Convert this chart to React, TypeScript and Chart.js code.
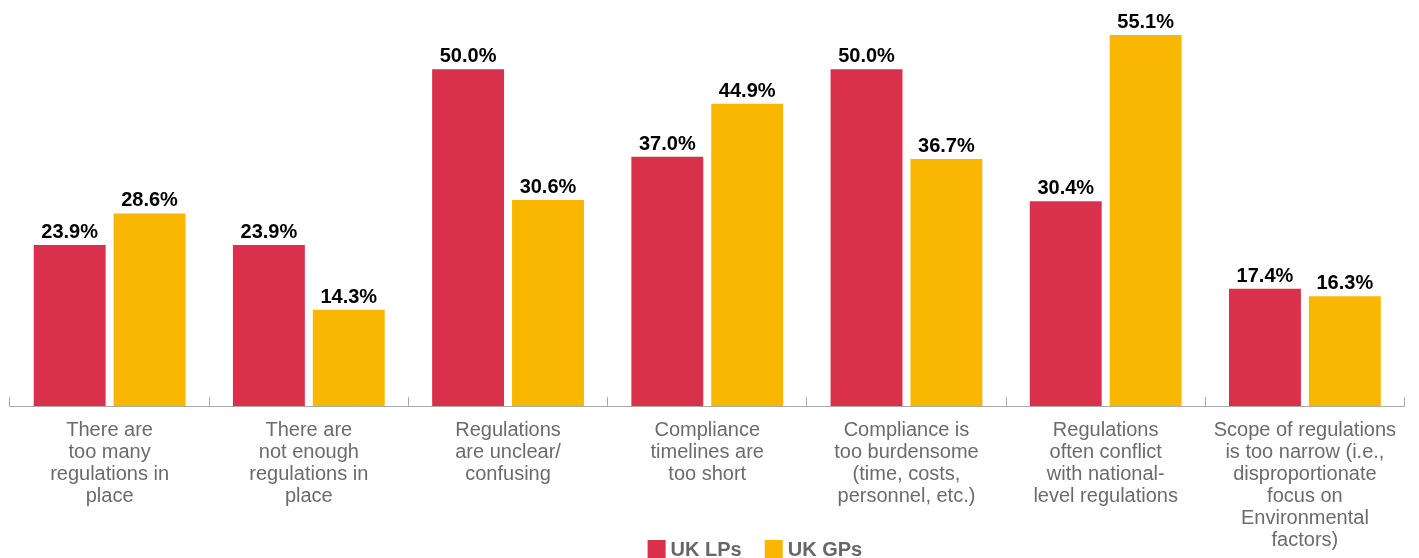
import React, { useEffect, useRef } from "react";
import { Chart, registerables } from "chart.js";

Chart.register(...registerables);

const categories: string[][] = [
  ["There are", "too many", "regulations in", "place"],
  ["There are", "not enough", "regulations in", "place"],
  ["Regulations", "are unclear/", "confusing"],
  ["Compliance", "timelines are", "too short"],
  ["Compliance is", "too burdensome", "(time, costs,", "personnel, etc.)"],
  ["Regulations", "often conflict", "with national-", "level regulations"],
  ["Scope of regulations", "is too narrow (i.e.,", "disproportionate", "focus on", "Environmental", "factors)"],
];

const ukLPs: number[] = [23.9, 23.9, 50.0, 37.0, 50.0, 30.4, 17.4];
const ukGPs: number[] = [28.6, 14.3, 30.6, 44.9, 36.7, 55.1, 16.3];

const seriesNames = ["UK LPs", "UK GPs"];
const seriesColors = ["#D9304B", "#F9B702"];

const FONT = '"Liberation Sans", Arial, Helvetica, sans-serif';

const valueLabelPlugin = {
  id: "valueLabels",
  afterDatasetsDraw(chart: any) {
    const ctx = chart.ctx;
    ctx.save();
    ctx.font = `bold 20px ${FONT}`;
    ctx.fillStyle = "#000000";
    ctx.textAlign = "center";
    ctx.textBaseline = "alphabetic";
    chart.data.datasets.forEach((ds: any, di: number) => {
      const meta = chart.getDatasetMeta(di);
      meta.data.forEach((bar: any, i: number) => {
        ctx.fillText(`${Number(ds.data[i]).toFixed(1)}%`, bar.x, bar.y - 7);
      });
    });
    ctx.restore();
  },
};

const customLegendPlugin = {
  id: "customLegend",
  afterDraw(chart: any) {
    const ctx = chart.ctx;
    ctx.save();
    ctx.font = `bold 20px ${FONT}`;
    const box = 18;
    const gapText = 5;
    const gapItem = 23;
    const items = chart.data.datasets.map((ds: any) => ({
      label: ds.label,
      color: ds.backgroundColor,
      w: box + gapText + ctx.measureText(ds.label).width,
    }));
    const total = items.reduce((s: number, it: any) => s + it.w, 0) + gapItem * (items.length - 1);
    let x = chart.width * 0.532 - total / 2;
    const top = chart.height - 18;
    items.forEach((it: any) => {
      ctx.fillStyle = it.color;
      ctx.fillRect(x, top, box, box);
      ctx.fillStyle = "#666666";
      ctx.textAlign = "left";
      ctx.textBaseline = "middle";
      ctx.fillText(it.label, x + box + gapText, top + box / 2 + 1);
      x += it.w + gapItem;
    });
    ctx.restore();
  },
};

export default function App() {
  const ref = useRef<HTMLCanvasElement | null>(null);

  useEffect(() => {
    if (!ref.current) return;
    const chart = new Chart(ref.current, {
      type: "bar",
      data: {
        labels: categories,
        datasets: [
          { label: seriesNames[0], data: ukLPs, backgroundColor: seriesColors[0] },
          { label: seriesNames[1], data: ukGPs, backgroundColor: seriesColors[1] },
        ],
      },
      options: {
        responsive: false,
        animation: false,
        devicePixelRatio: 1,
        categoryPercentage: 0.802,
        barPercentage: 0.9,
        layout: { padding: { left: 10, right: 13, top: 2, bottom: 0 } },
        plugins: {
          legend: { display: false },
          tooltip: { enabled: false },
        },
        scales: {
          y: {
            display: false,
            min: 0,
            max: 60,
          },
          x: {
            afterFit(scale: any) {
              scale.height = 152;
            },
            border: { display: true, color: "#ababab", width: 1 },
            grid: {
              display: true,
              drawOnChartArea: false,
              drawTicks: true,
              tickLength: -9,
              color: "#ababab",
              offset: true,
            },
            ticks: {
              autoSkip: false,
              maxRotation: 0,
              minRotation: 0,
              padding: 22,
              color: "#6b6b6b",
              font: { family: FONT, size: 20, lineHeight: 1.1 },
            },
          },
        },
      },
      plugins: [valueLabelPlugin, customLegendPlugin],
    } as any);
    return () => chart.destroy();
  }, []);

  return (
    <div style={{ position: "absolute", left: 0, top: 0, width: 1419, height: 558, background: "#fff" }}>
      <canvas ref={ref} width={1419} height={558} />
    </div>
  );
}
